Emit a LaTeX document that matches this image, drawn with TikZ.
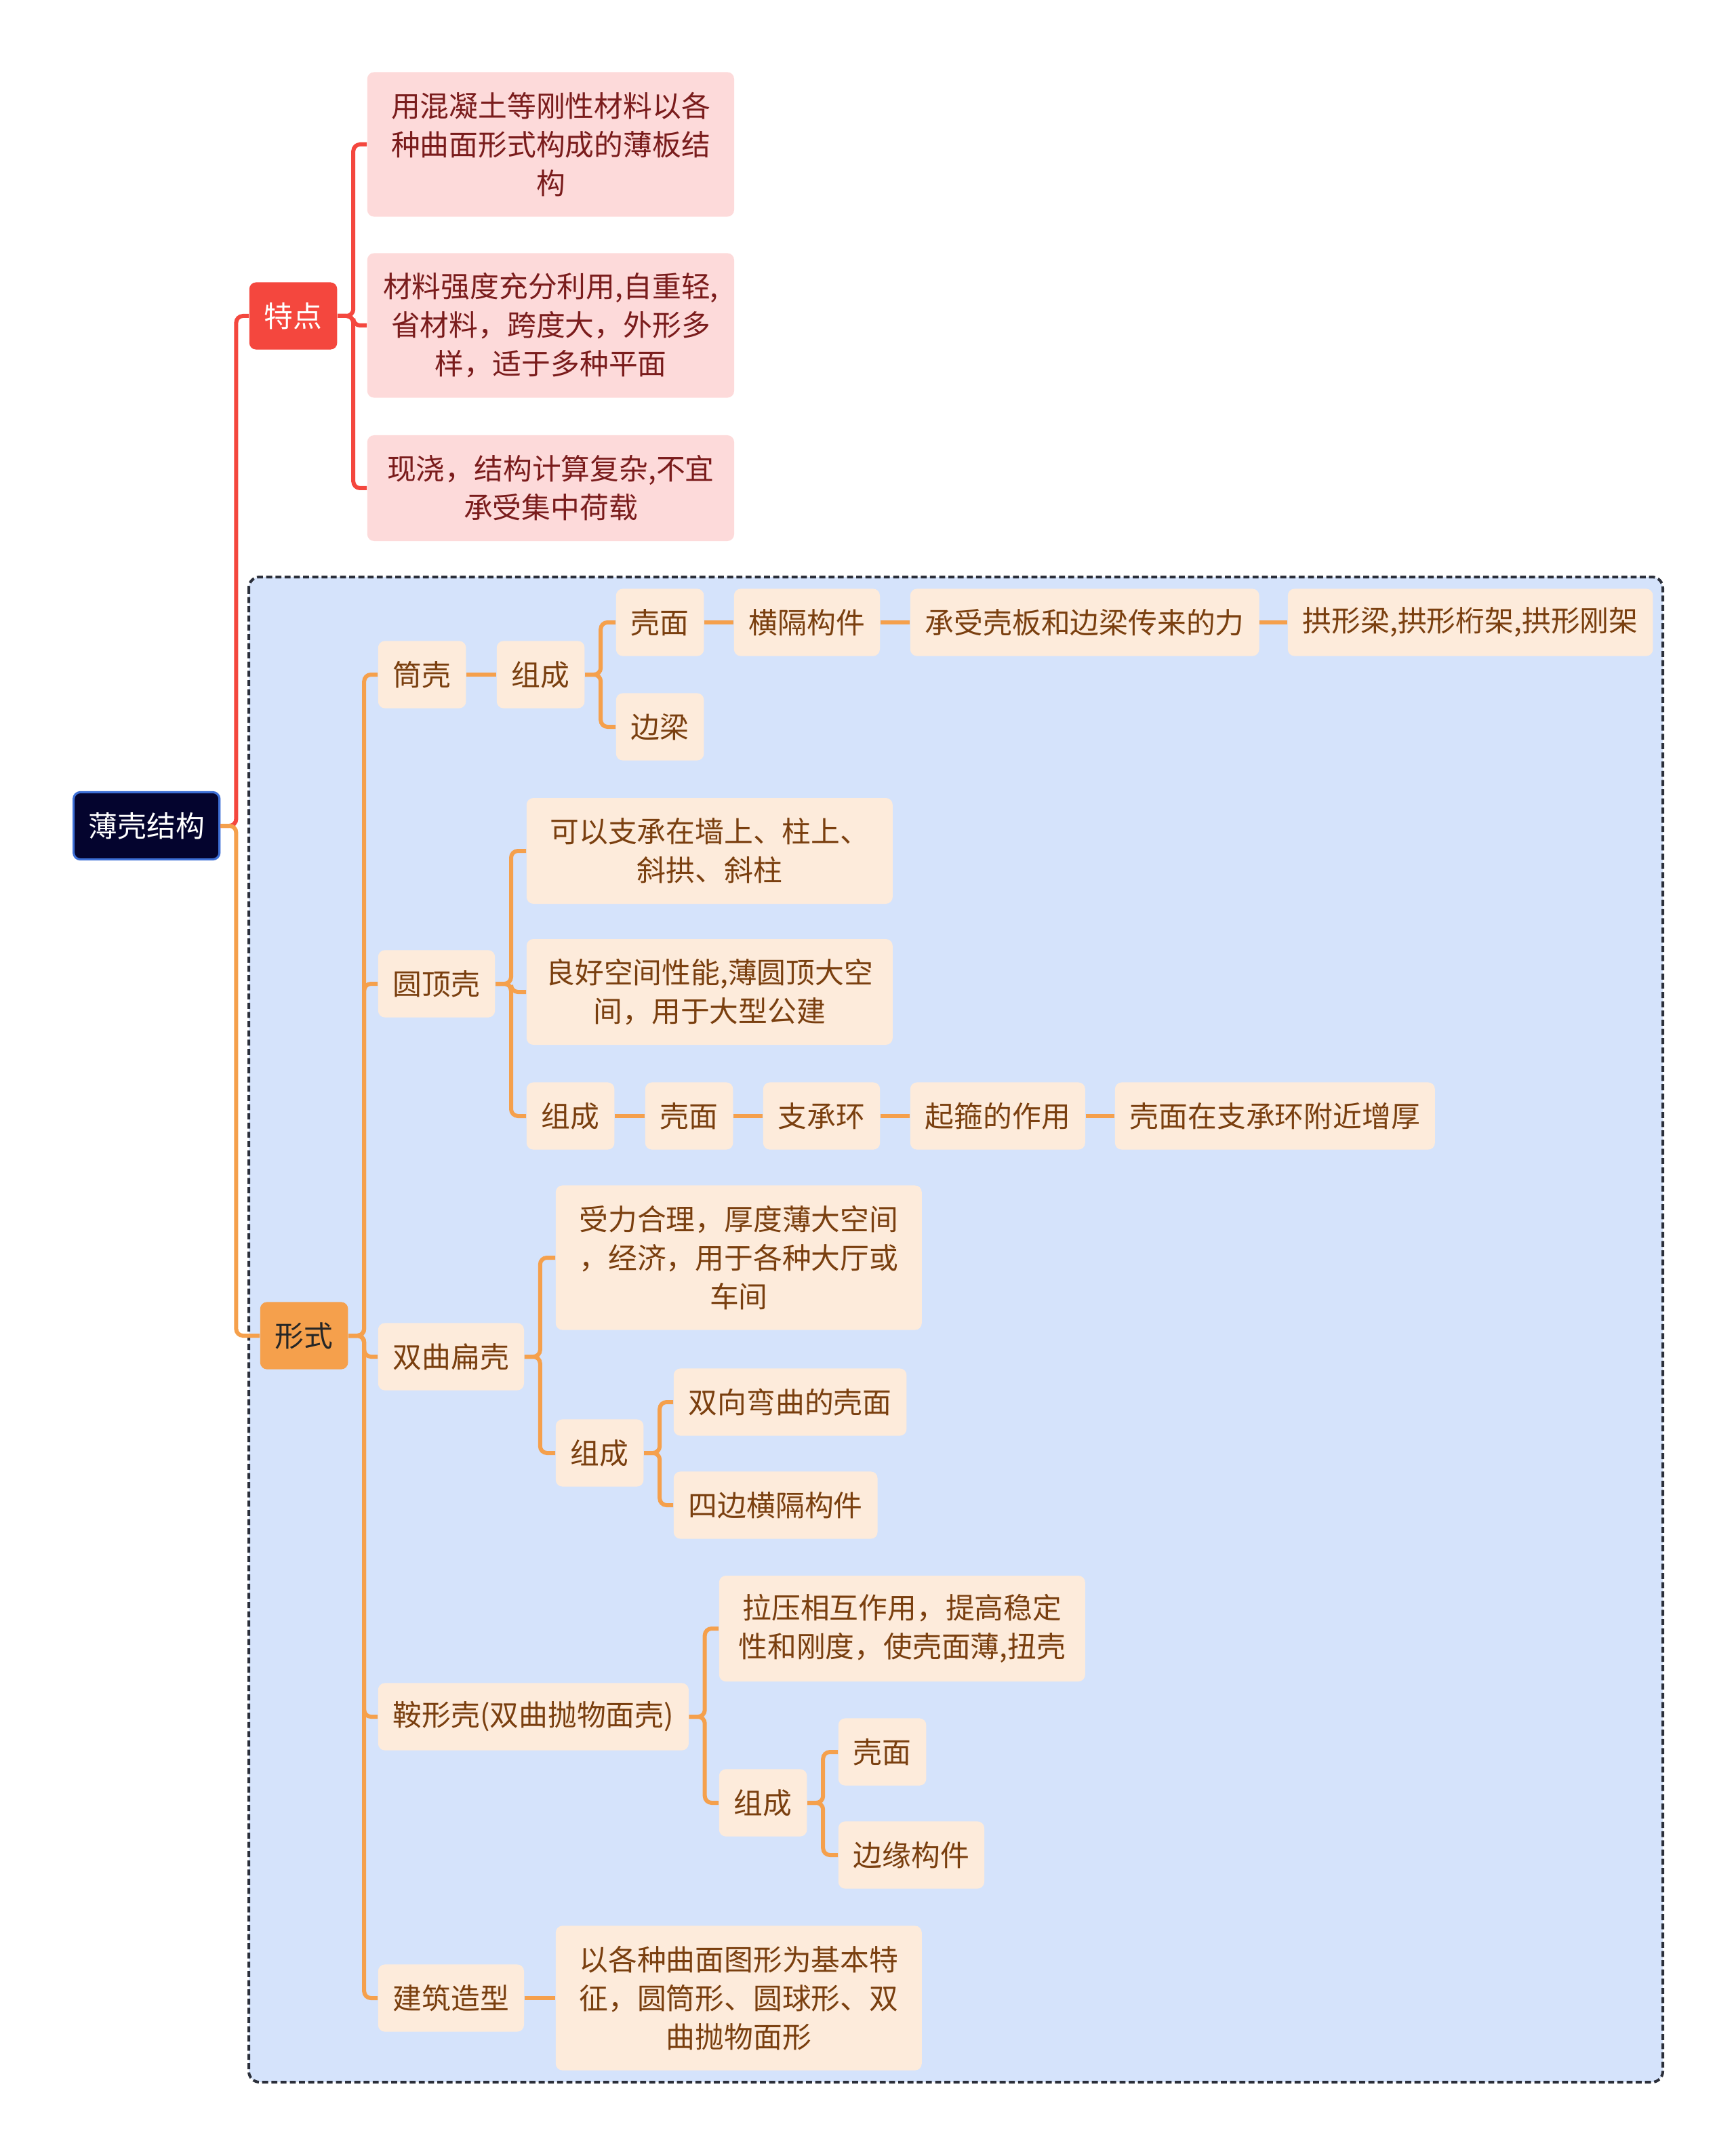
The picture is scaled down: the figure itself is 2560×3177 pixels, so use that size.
\documentclass[tikz,border=0pt]{standalone}
\usepackage{fontspec}
\setmainfont{Noto Sans CJK SC}
\definecolor{rootbg}        {HTML}{04042E}
\definecolor{rootline}      {HTML}{3D6FD6}
\definecolor{myr}           {HTML}{F4473E}
\definecolor{myrl}          {HTML}{FDDADA}
\definecolor{myrt}          {HTML}{7A1C1C}
\definecolor{myo}           {HTML}{F5A04C}
\definecolor{myol}          {HTML}{FDEBDB}
\definecolor{myot}          {HTML}{7A3F0F}
\definecolor{myb}           {HTML}{D5E3FB}
\definecolor{mybl}          {HTML}{2B2F3A}
\usetikzlibrary{positioning}

% parent -> child elbow connector
\newcommand{\branch}[3]{\draw[#1] (#2.east) -- ++(23,0) |- (#3.west);}

\begin{document}
\begin{tikzpicture}[x=0.25pt, y=-0.25pt,
	every node/.style={font=\fontsize{10.7}{14.2}\selectfont, align=center, anchor=west,
		inner xsep=5.5pt, inner ysep=0pt, minimum height=24.8pt, rounded corners=2.5pt},
	rootbox/.style={fill=rootbg, draw=rootline, line width=0.8pt, text=white},
	redbox/.style={fill=myr, text=white},
	redleaf/.style={fill=myrl, text=myrt, text width=124.3pt},
	orgbox/.style={fill=myo, text=black!85},
	leaf/.style={fill=myol, text=myot},
	wide/.style={text width=124pt},
	twol/.style={minimum height=39pt},
	threel/.style={minimum height=53.3pt},
	redlink/.style={draw=myr, line width=1.5pt, rounded corners=2.5pt},
	orglink/.style={draw=myo, line width=1.5pt, rounded corners=2.5pt}]
	\useasboundingbox (0,0) rectangle (2560,3177);
	% group frame
	\draw[fill=myb, draw=mybl, line width=1pt, dash pattern=on 2.2pt off 1.2pt, rounded corners=4pt]
		(367,851) rectangle (2453,3071);

	\node[rootbox] (root) at (107,1218) {薄壳结构};

	% 特点
	\node[redbox] (tedian) at (367,466) {特点};
	\node[redleaf, threel] (td1) at (541,213) {用混凝土等刚性材料以各\\种曲面形式构成的薄板结\\构};
	\node[redleaf, threel] (td2) at (541,480) {材料强度充分利用,自重轻,\\省材料，跨度大，外形多\\样，适于多种平面};
	\node[redleaf, twol] (td3) at (541,720) {现浇，结构计算复杂,不宜\\承受集中荷载};

	% 形式
	\node[orgbox] (xingshi) at (383,1970) {形式};

	\node[leaf] (tong) at (557,995) {筒壳};
	\node[leaf] (tongzc) at (732,995) {组成};
	\node[leaf] (tongkm) at (908,918) {壳面};
	\node[leaf] (tongbl) at (908,1072) {边梁};
	\node[leaf] (tonghg) at (1082,918) {横隔构件};
	\node[leaf] (tongcs) at (1342,918) {承受壳板和边梁传来的力};
	\node[leaf, minimum width=133.8pt] (tonggx) at (1899,918) {拱形梁,拱形桁架,拱形刚架};

	\node[leaf] (yuan) at (557,1451) {圆顶壳};
	\node[leaf, wide, twol] (yuan1) at (776,1255) {可以支承在墙上、柱上、\\斜拱、斜柱};
	\node[leaf, wide, twol] (yuan2) at (776,1463) {良好空间性能,薄圆顶大空\\间，用于大型公建};
	\node[leaf] (yuanzc) at (776,1646) {组成};
	\node[leaf] (yuankm) at (951,1646) {壳面};
	\node[leaf] (yuanhuan) at (1125,1646) {支承环};
	\node[leaf] (yuangu) at (1342,1646) {起箍的作用};
	\node[leaf] (yuanhou) at (1644,1646) {壳面在支承环附近增厚};

	\node[leaf] (shuang) at (557,2001) {双曲扁壳};
	\node[leaf, wide, threel] (shuang1) at (819,1855) {受力合理，厚度薄大空间\\，经济，用于各种大厅或\\车间};
	\node[leaf] (shuangzc) at (819,2143) {组成};
	\node[leaf] (shuangkm) at (993,2068) {双向弯曲的壳面};
	\node[leaf] (shuanghg) at (993,2220) {四边横隔构件};

	\node[leaf] (an) at (557,2532) {鞍形壳(双曲抛物面壳)};
	\node[leaf, wide, twol] (an1) at (1060,2402) {拉压相互作用，提高稳定\\性和刚度，使壳面薄,扭壳};
	\node[leaf] (anzc) at (1060,2659) {组成};
	\node[leaf] (ankm) at (1236,2584) {壳面};
	\node[leaf] (anby) at (1236,2736) {边缘构件};

	\node[leaf] (jian) at (557,2947) {建筑造型};
	\node[leaf, wide, threel] (jian1) at (819,2947) {以各种曲面图形为基本特\\征，圆筒形、圆球形、双\\曲抛物面形};

	% connectors
	\branch{redlink}{root}{tedian}
	\foreach \n in {td1,td2,td3} {\branch{redlink}{tedian}{\n}}
	\branch{orglink}{root}{xingshi}
	\foreach \n in {tong,yuan,shuang,an,jian} {\branch{orglink}{xingshi}{\n}}
	\draw[orglink] (tong) -- (tongzc);
	\foreach \n in {tongkm,tongbl} {\branch{orglink}{tongzc}{\n}}
	\draw[orglink] (tongkm) -- (tonghg);
	\draw[orglink] (tonghg) -- (tongcs);
	\draw[orglink] (tongcs) -- (tonggx);
	\foreach \n in {yuan1,yuan2,yuanzc} {\branch{orglink}{yuan}{\n}}
	\draw[orglink] (yuanzc) -- (yuankm);
	\draw[orglink] (yuankm) -- (yuanhuan);
	\draw[orglink] (yuanhuan) -- (yuangu);
	\draw[orglink] (yuangu) -- (yuanhou);
	\foreach \n in {shuang1,shuangzc} {\branch{orglink}{shuang}{\n}}
	\foreach \n in {shuangkm,shuanghg} {\branch{orglink}{shuangzc}{\n}}
	\foreach \n in {an1,anzc} {\branch{orglink}{an}{\n}}
	\foreach \n in {ankm,anby} {\branch{orglink}{anzc}{\n}}
	\draw[orglink] (jian) -- (jian1);
\end{tikzpicture}
\end{document}
